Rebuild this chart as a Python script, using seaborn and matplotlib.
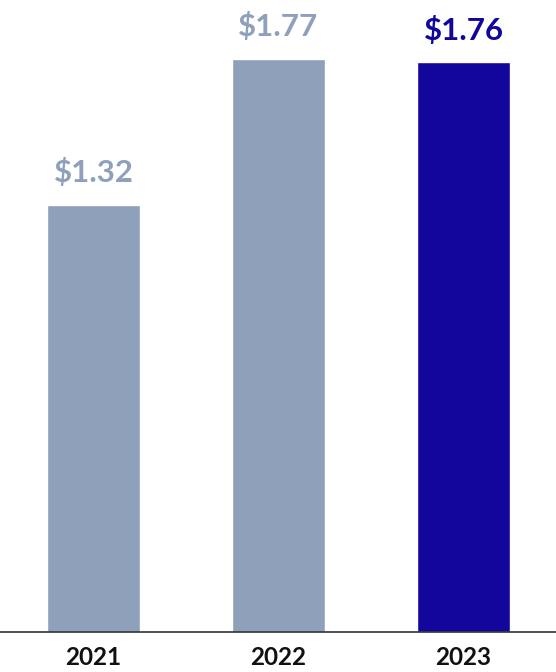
import numpy as np
import pandas as pd
import seaborn as sns
import matplotlib.pyplot as plt

years = ["2021", "2022", "2023"]
values = [1.32, 1.77, 1.76]
labels = ["$1.32", "$1.77", "$1.76"]
colors = ["#8fa0bb", "#8fa0bb", "#12069c"]

df = pd.DataFrame({"year": years, "value": values})

sns.set_style("white")
plt.rcParams["font.family"] = ["Lato", "DejaVu Sans"]

fig = plt.figure(figsize=(5.56, 6.72), dpi=100)
ax = fig.add_axes([0, 40 / 672, 1, 632 / 672])

sns.barplot(data=df, x="year", y="value", hue="year", palette=colors,
            width=0.505, legend=False, ax=ax, saturation=1)

ax.set_xlim(-0.505, 2.5)
ax.set_ylim(0, 1.953)

for i, (v, lab) in enumerate(zip(values, labels)):
    ax.text(i, v + 0.055, lab, ha="center", va="bottom", fontsize=22.5,
            fontweight="bold", color=colors[i])

ax.set_xlabel("")
ax.set_ylabel("")
ax.set_yticks([])
ax.tick_params(axis="x", length=0, pad=10, labelsize=17.5)
for t in ax.get_xticklabels():
    t.set_fontweight("bold")
    t.set_color("#111111")

for s in ["top", "right", "left"]:
    ax.spines[s].set_visible(False)
ax.spines["bottom"].set_color("#333333")
ax.spines["bottom"].set_linewidth(1.2)

fig.savefig("out.png", dpi=100)
